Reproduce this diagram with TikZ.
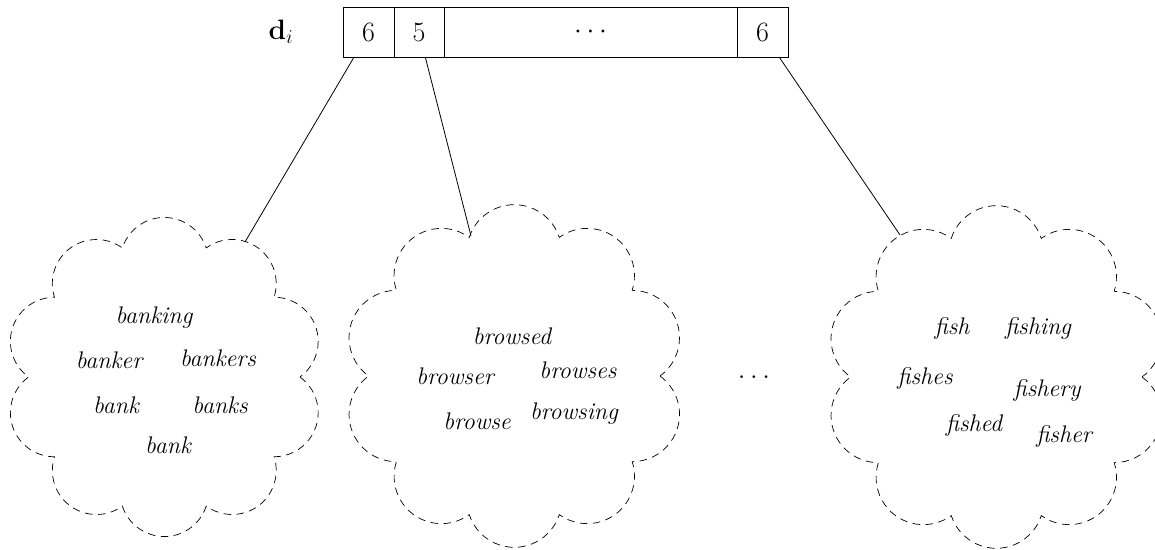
\RequirePackage{fix-cm}
\documentclass[tikz,border=0pt]{standalone}
\usetikzlibrary{calc}
\begin{document}
\begin{tikzpicture}[x=1pt,y=-1pt,
  cell/.style={draw, line width=0.8pt, minimum height=49.5pt, inner sep=0pt, font=\fontsize{28}{32}\selectfont},
  cloudline/.style={line width=0.7pt, dash pattern=on 7.5pt off 5.5pt},
  word/.style={font=\fontsize{24}{26}\selectfont\itshape, inner sep=0pt},
  conn/.style={line width=0.8pt},
  big/.style={font=\fontsize{28}{32}\selectfont, inner sep=0pt}]
\useasboundingbox (0,0) rectangle (1155,549);
% vector header
\node[big] (d) at (281,32) {$\mathbf{d}_i$};
\node[cell, minimum width=51pt] (c1) at (368.5,32.5) {6};
\node[cell, minimum width=50pt] (c2) at (419,32.5) {5};
\node[cell, minimum width=293pt] (c3) at (590.5,32.5) {$\cdots$};
\node[cell, minimum width=51pt] (c4) at (762.5,32.5) {6};
% cloud centres
\coordinate (k1) at (164,377);
\coordinate (k2) at (514,376);
\coordinate (k3) at (996,377);
% clouds
\draw[cloudline] ($(k1)+(136,0)$) foreach \i in {0,...,9}{ arc[start angle=36*\i-54, end angle=36*\i+90, radius=44.1] } -- cycle;
\draw[cloudline] ($(k2)+(146,0)$) foreach \i in {0,...,9}{ arc[start angle=36*\i-54, end angle=36*\i+90, radius=47.35] } -- cycle;
\draw[cloudline] ($(k3)+(146,0)$) foreach \i in {0,...,9}{ arc[start angle=36*\i-54, end angle=36*\i+90, radius=47.35] } -- cycle;
% connector ends on clouds
\coordinate (e1) at (245,242);
\coordinate (e2) at (471,236);
\coordinate (e3) at (900,235);
\draw[conn] (c1) -- (e1);
\draw[conn] (c2) -- (e2);
\draw[conn] (c4) -- (e3);
% words cloud 1
\node[word] (w11) at (154,318) {banking};
\node[word] (w12) at (109,360) {banker};
\node[word] (w13) at (218,358) {bankers};
\node[word] (w14) at (116,405) {bank};
\node[word] (w15) at (220,405) {banks};
\node[word] (w16) at (168,445) {bank};
% words cloud 2
\node[word] (w21) at (512,336) {browsed};
\node[word] (w22) at (455,376) {browser};
\node[word] (w23) at (578,370) {browses};
\node[word] (w24) at (477,421) {browse};
\node[word] (w25) at (574,414) {browsing};
% words cloud 3
\node[word] (w31) at (952,328) {fish};
\node[word] (w32) at (1038,328) {fishing};
\node[word] (w33) at (925,378) {fishes};
\node[word] (w34) at (1047,390) {fishery};
\node[word] (w35) at (974,425) {fished};
\node[word] (w36) at (1064,436) {fisher};
% ellipsis between clouds
\node[big] (dots) at (754,377) {$\dots$};
\end{tikzpicture}
\end{document}
